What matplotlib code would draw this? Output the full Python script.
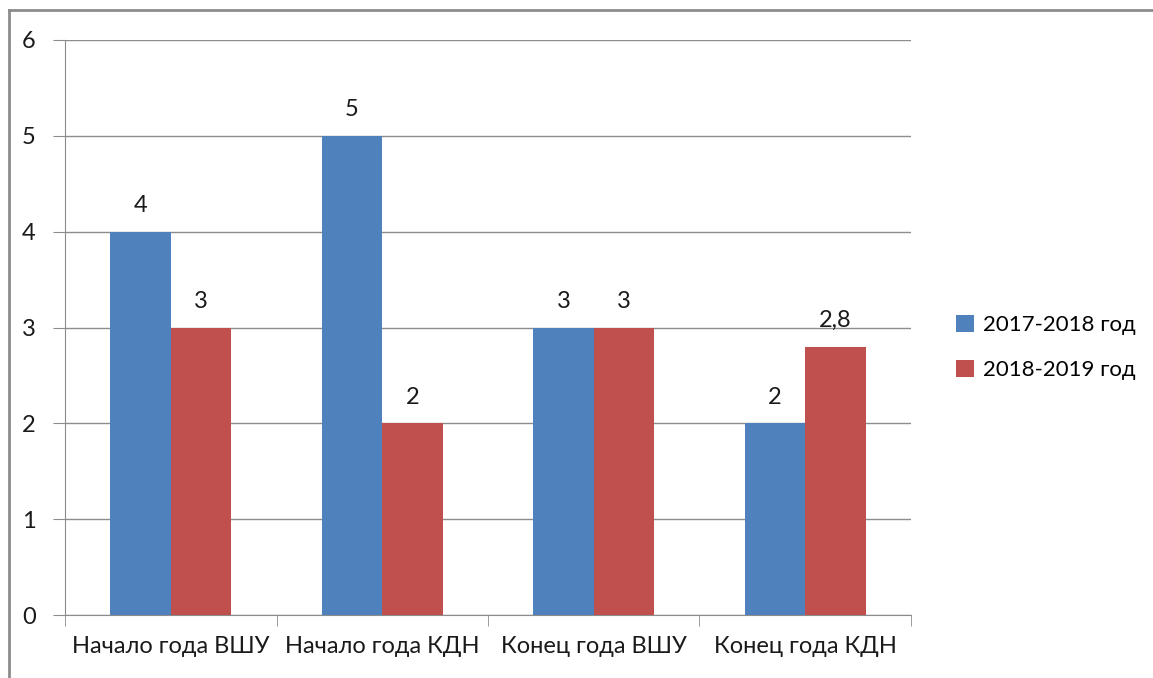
import matplotlib
matplotlib.use("Agg")
import matplotlib.pyplot as plt
from matplotlib.lines import Line2D
import numpy as np

categories = ["Начало года ВШУ", "Начало года КДН", "Конец года ВШУ", "Конец года КДН"]
series_names = ["2017-2018 год", "2018-2019 год"]
values_2017 = [4, 5, 3, 2]
values_2018 = [3, 2, 3, 2.8]
colors = ["#4F81BD", "#C0504D"]

plt.rcParams['font.family'] = ['Lato', 'DejaVu Sans']

fig = plt.figure(figsize=(11.53, 6.78), dpi=100)
ax = fig.add_axes([65 / 1153, 1 - 615 / 678, (911 - 65) / 1153, (615 - 40) / 678])

x = np.arange(len(categories))
w = 0.287
b1 = ax.bar(x - w / 2, values_2017, w, color=colors[0], label=series_names[0], zorder=3)
b2 = ax.bar(x + w / 2, values_2018, w, color=colors[1], label=series_names[1], zorder=3)

def fmt(v):
    return str(v).replace(".", ",") if v != int(v) else str(int(v))

for bars, vals in ((b1, values_2017), (b2, values_2018)):
    for rect, v in zip(bars, vals):
        ax.text(rect.get_x() + rect.get_width() / 2, v + 0.16, fmt(v),
                ha="center", va="bottom", fontsize=17, color="#1a1a1a")

ax.set_xlim(-0.5, len(categories) - 0.5)
ax.set_ylim(0, 6)
ax.set_yticks(range(7))
ax.yaxis.grid(True, color="#8c8c8c", linewidth=1, zorder=0)
ax.set_axisbelow(True)

for s in ("top", "right"):
    ax.spines[s].set_visible(False)
for s in ("left", "bottom"):
    ax.spines[s].set_color("#8c8c8c")

ax.set_xticks(x)
ax.set_xticklabels(categories, fontsize=17, color="#1a1a1a")
ax.tick_params(axis="x", length=0, pad=15)
ax.set_xticks(np.arange(-0.5, len(categories)), minor=True)
ax.tick_params(axis="x", which="minor", length=8, color="#8c8c8c")
ax.tick_params(axis="y", length=9, color="#8c8c8c", labelsize=17, labelcolor="#1a1a1a", pad=12)

ax.legend(loc="center left", bbox_to_anchor=(1.03, 0.465), frameon=False,
          fontsize=16, handlelength=0.8, handleheight=0.8, labelspacing=1.1, handletextpad=0.4)

# outer chart frame (top and left)
fig.add_artist(Line2D([9 / 1153, 1], [1 - 10 / 678, 1 - 10 / 678], color="#8c8c8c", linewidth=2))
fig.add_artist(Line2D([9 / 1153, 9 / 1153], [0, 1 - 10 / 678], color="#8c8c8c", linewidth=2))

fig.savefig("out.png", dpi=100)
